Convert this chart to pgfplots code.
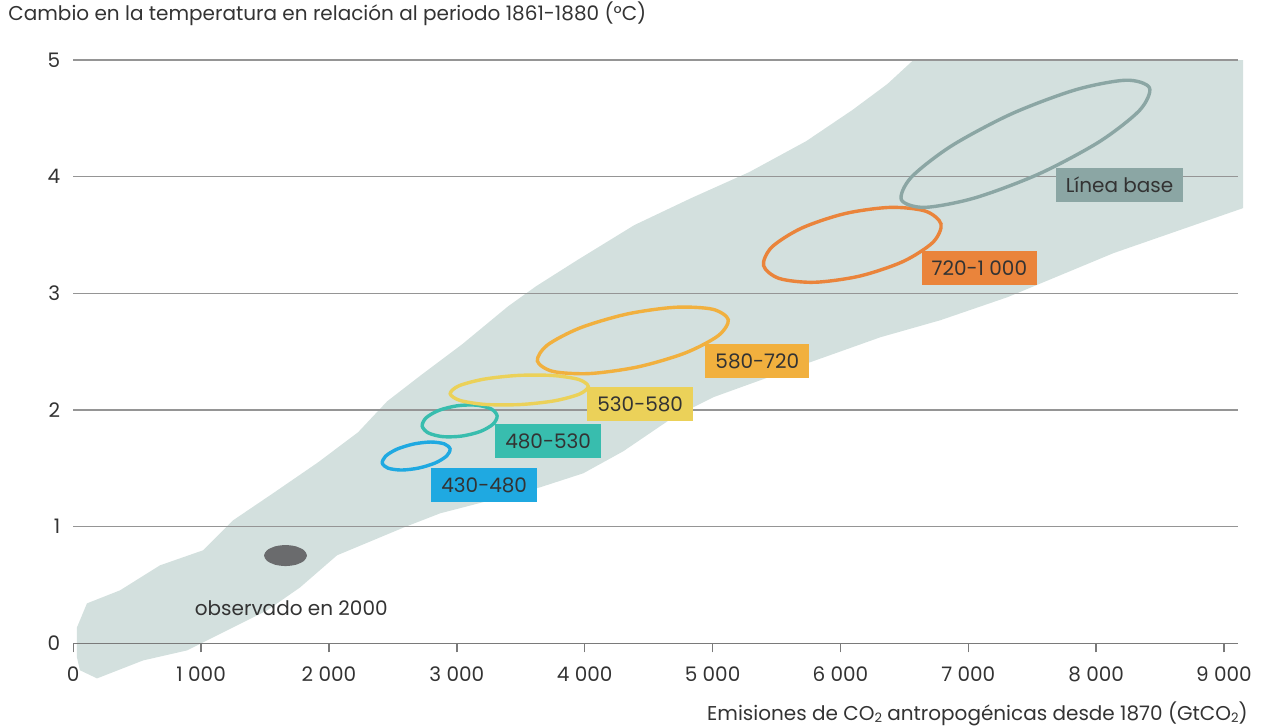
\documentclass[border=0pt]{standalone}
\usepackage{fontspec}
\setmainfont{Poppins}
\usepackage{pgfplots}
\pgfplotsset{compat=1.18}

\definecolor{region}{HTML}{D3E0DE}
\definecolor{gridgray}{HTML}{959595}
\definecolor{axisgray}{HTML}{7A7A7A}
\definecolor{textcol}{HTML}{333333}
\definecolor{obs}{HTML}{6A6B6D}
\definecolor{cblue}{HTML}{1FA9E1}
\definecolor{cteal}{HTML}{38BDAE}
\definecolor{cyellow}{HTML}{EBD159}
\definecolor{clight}{HTML}{F1B03E}
\definecolor{corange}{HTML}{EA843B}
\definecolor{cbase}{HTML}{8BA6A4}

\newcommand{\lbl}{\fontsize{10}{12}\selectfont}
\newcommand{\sub}[1]{\raisebox{-0.2ex}{\fontsize{6.5}{7}\selectfont #1}}

\begin{document}
\begin{tikzpicture}
\begin{axis}[
  set layers,
  scale only axis,
  width=582.4pt, height=291.7pt,
  xmin=0, xmax=9110, ymin=0, ymax=5,
  clip=false,
  axis x line*=bottom, axis y line*=left,
  y axis line style={draw=none},
  x axis line style={color=axisgray, line width=0.7pt},
  xtick={0,1000,...,9000}, ytick={0,1,...,5},
  ytick style={draw=none},
  xtick style={color=axisgray, line width=0.7pt},
  tick align=outside, major tick length=4.5pt,
  ymajorgrids, major grid style={color=gridgray, line width=0.7pt},
  scaled x ticks=false,
  /pgf/number format/assume math mode=true,
  /pgf/number format/1000 sep={\ },
  tick label style={font=\lbl, text=textcol},
  yticklabel style={xshift=1.5pt},
  xticklabel style={yshift=-3.5pt},
  title={Cambio en la temperatura en relación al periodo 1861-1880 (°C)},
  title style={at={(axis description cs:-0.056,1.048)}, anchor=base west, yshift=0pt, font=\lbl, text=textcol, inner sep=0pt},
  xlabel={Emisiones de CO\sub{2} antropogénicas desde 1870 (GtCO\sub{2})},
  xlabel style={at={(axis description cs:1.0086,-0.1315)}, anchor=base east, font=\lbl, text=textcol, inner sep=0pt},
]

% range of model results
\addplot[fill=region, draw=none, on layer=axis background] coordinates {
  (29,0.137) (107,0.343) (366,0.455) (678,0.669) (1015,0.798) (1250,1.055)
  (1563,1.287) (1915,1.552) (2228,1.810) (2455,2.075) (2729,2.307) (3042,2.564)
  (3402,2.890) (3621,3.062) (3942,3.285) (4388,3.585) (4834,3.817) (5288,4.040)
  (5733,4.305) (6093,4.571) (6367,4.794) (6571,5.0) (9150,5.0)
  (9150,3.731) (8136,3.345) (7306,2.967) (6782,2.770) (6313,2.624) (5741,2.401)
  (5006,2.110) (4693,1.938) (4302,1.647) (3989,1.458) (3652,1.338) (3261,1.226)
  (2870,1.115) (2588,0.995) (2063,0.755) (1774,0.480) (1516,0.283) (1203,0.111)
  (890,-0.060) (546,-0.146) (186,-0.300) (52,-0.23) (29,-0.12)
} --cycle;

% scenario ellipses (430-480 ... baseline)
\addplot[cblue, line width=1.7pt, smooth cycle] coordinates {
  (2947,1.667) (2921,1.607) (2832,1.547) (2702,1.503) (2567,1.486) (2462,1.502)
  (2417,1.545) (2443,1.605) (2532,1.665) (2662,1.709) (2797,1.726) (2902,1.710)
};
\addplot[cteal, line width=1.7pt, smooth cycle] coordinates {
  (3315,1.951) (3284,1.880) (3183,1.816) (3038,1.777) (2890,1.772) (2777,1.804)
  (2729,1.863) (2760,1.934) (2861,1.998) (3006,2.037) (3154,2.042) (3268,2.010)
};
\addplot[cyellow, line width=1.7pt, smooth cycle] coordinates {
  (4028,2.203) (3959,2.137) (3763,2.079) (3494,2.047) (3223,2.048) (3023,2.083)
  (2948,2.141) (3017,2.208) (3213,2.265) (3482,2.297) (3753,2.296) (3953,2.262)
};
\addplot[clight, line width=1.7pt, smooth cycle] coordinates {
  (5123,2.775) (5045,2.638) (4788,2.490) (4421,2.371) (4042,2.313) (3752,2.331)
  (3630,2.420) (3707,2.556) (3964,2.704) (4331,2.823) (4710,2.881) (5000,2.864)
};
\addplot[corange, line width=1.7pt, smooth cycle] coordinates {
  (6787,3.594) (6723,3.437) (6490,3.273) (6150,3.148) (5796,3.095) (5521,3.128)
  (5399,3.238) (5463,3.396) (5696,3.559) (6036,3.684) (6390,3.737) (6665,3.705)
};
\addplot[cbase, line width=1.7pt, smooth cycle] coordinates {
  (8417,4.762) (8340,4.569) (8024,4.299) (7553,4.024) (7054,3.819) (6660,3.737)
  (6477,3.802) (6554,3.995) (6870,4.265) (7341,4.540) (7840,4.745) (8234,4.827)
};
% observed in 2000
\addplot[fill=obs, draw=none, smooth cycle] coordinates {
  (1828,0.753) (1805,0.798) (1744,0.831) (1660,0.843) (1576,0.831) (1515,0.798)
  (1492,0.753) (1515,0.708) (1576,0.675) (1660,0.663) (1744,0.675) (1805,0.708)
};

\begin{scope}[every node/.style={font=\lbl, text=textcol, inner xsep=5pt, minimum height=17pt}]
\node[fill=cblue] at (axis cs:3214,1.358) {430-480};
\node[fill=cteal] at (axis cs:3714,1.731) {480-530};
\node[fill=cyellow] at (axis cs:4434,2.052) {530-580};
\node[fill=clight] at (axis cs:5350,2.421) {580-720};
\node[fill=corange] at (axis cs:7087,3.215) {720-1\ 000};
\node[fill=cbase] at (axis cs:8183,3.93) {Línea base};
\node at (axis cs:1705,0.30) {observado en 2000};
\end{scope}

\path (axis description cs:-0.0629,-0.1383) rectangle (axis description cs:1.0197,1.1029);
\end{axis}
\end{tikzpicture}
\end{document}
